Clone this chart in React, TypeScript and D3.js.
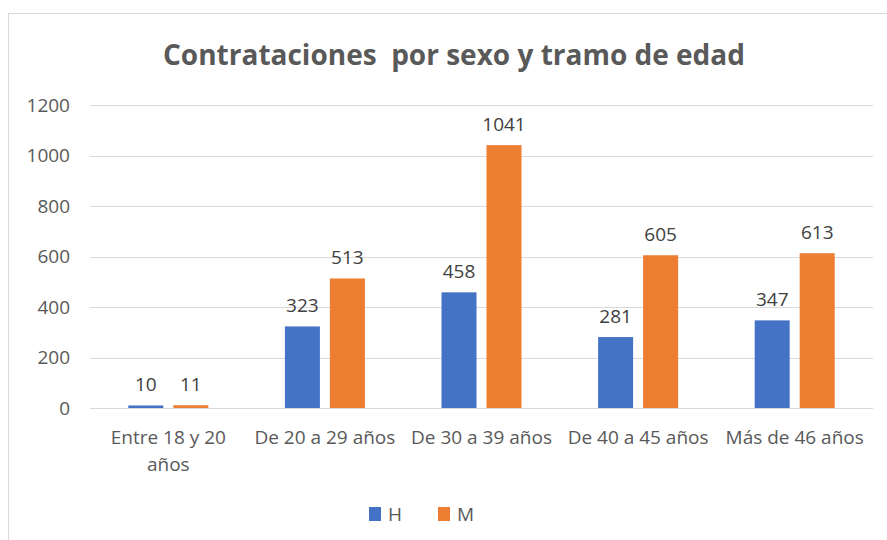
import * as React from 'react';
import * as d3 from 'd3';

const categories = [
  ['Entre 18 y 20', 'años'],
  ['De 20 a 29 años'],
  ['De 30 a 39 años'],
  ['De 40 a 45 años'],
  ['Más de 46 años']
];
const seriesNames = ['H', 'M'];
const valuesH = [10, 323, 458, 281, 347];
const valuesM = [11, 513, 1041, 605, 613];
const yTicks = [0, 200, 400, 600, 800, 1000, 1200];
const colors = ['#4472C4', '#ED7D31'];

const W = 887, H = 540;
const FONT = '"Open Sans", "Noto Sans", sans-serif';

export default function App() {
  const svgRef = React.useRef<SVGSVGElement>(null);

  React.useEffect(() => {
    const svg = d3.select(svgRef.current);
    svg.selectAll('*').remove();

    const left = 90, right = 873, top = 105, bottom = 408;

    const x0 = d3.scaleBand<number>()
      .domain(categories.map((_, i) => i))
      .range([left, right]);

    const groupW = 80;
    const x1 = d3.scaleBand<number>()
      .domain([0, 1])
      .range([(x0.bandwidth() - groupW) / 2, (x0.bandwidth() + groupW) / 2])
      .paddingInner(10 / 45);

    const y = d3.scaleLinear().domain([0, 1200]).range([bottom, top]);

    // chart border
    svg.append('rect')
      .attr('x', 8.5).attr('y', 13.5)
      .attr('width', 900).attr('height', 600)
      .attr('fill', '#fff')
      .attr('stroke', '#d9d9d9');

    // title
    svg.append('text')
      .attr('x', 454).attr('y', 65)
      .attr('text-anchor', 'middle')
      .attr('font-family', FONT)
      .attr('font-weight', 'bold')
      .attr('font-size', 28)
      .attr('fill', '#595959')
      .attr('xml:space', 'preserve')
      .text('Contrataciones  por sexo y tramo de edad');

    // gridlines + y labels
    const g = svg.append('g');
    yTicks.forEach(t => {
      g.append('line')
        .attr('x1', left).attr('x2', right)
        .attr('y1', Math.round(y(t)) + 0.5).attr('y2', Math.round(y(t)) + 0.5)
        .attr('stroke', '#d9d9d9').attr('stroke-width', 1);
      g.append('text')
        .attr('x', 70).attr('y', y(t))
        .attr('dy', '0.35em')
        .attr('text-anchor', 'end')
        .attr('font-family', FONT).attr('font-size', 19)
        .attr('fill', '#595959')
        .text(t);
    });

    const data = categories.map((_, i) => [valuesH[i], valuesM[i]]);

    const groups = svg.append('g').selectAll('g')
      .data(data)
      .join('g')
      .attr('transform', (_, i) => `translate(${x0(i)},0)`);

    groups.selectAll('rect')
      .data(d => d)
      .join('rect')
      .attr('x', (_, j) => x1(j)!)
      .attr('width', x1.bandwidth())
      .attr('y', d => y(d))
      .attr('height', d => bottom - y(d))
      .attr('fill', (_, j) => colors[j]);

    groups.selectAll('text.lbl')
      .data(d => d)
      .join('text')
      .attr('class', 'lbl')
      .attr('x', (_, j) => x1(j)! + x1.bandwidth() / 2)
      .attr('y', d => y(d) - 14)
      .attr('text-anchor', 'middle')
      .attr('font-family', FONT).attr('font-size', 19)
      .attr('fill', '#404040')
      .text(d => d);

    // category labels
    categories.forEach((lines, i) => {
      const t = svg.append('text')
        .attr('text-anchor', 'middle')
        .attr('font-family', FONT).attr('font-size', 19)
        .attr('fill', '#595959');
      lines.forEach((ln, k) => {
        t.append('tspan')
          .attr('x', x0(i)! + x0.bandwidth() / 2)
          .attr('y', 444 + k * 27)
          .text(ln);
      });
    });

    // legend
    const legendX = [369, 438];
    seriesNames.forEach((name, j) => {
      svg.append('rect')
        .attr('x', legendX[j]).attr('y', 507)
        .attr('width', 12).attr('height', 14)
        .attr('fill', colors[j]);
      svg.append('text')
        .attr('x', legendX[j] + 19).attr('y', 514)
        .attr('dy', '0.35em')
        .attr('font-family', FONT).attr('font-size', 19)
        .attr('fill', '#595959')
        .text(name);
    });
  }, []);

  return (
    <svg
      ref={svgRef}
      width={W}
      height={H}
      style={{ position: 'absolute', left: 0, top: 0, background: '#fff' }}
    />
  );
}
